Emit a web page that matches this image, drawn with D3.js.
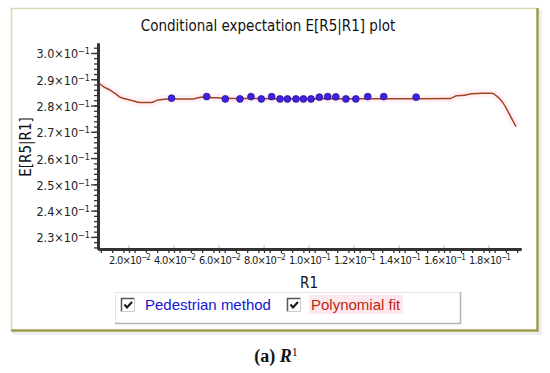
<!DOCTYPE html>
<html>
<head>
<meta charset="utf-8">
<script src="https://cdn.jsdelivr.net/npm/d3@7"></script>
<style>
  body { margin: 0; background: #fff; }
  svg { display: block; }
  .tick text { fill: #222; }
</style>
</head>
<body>
<div id="chart"></div>
<script>
// data
var pedX = [0.0389, 0.0545, 0.0628, 0.0693, 0.0742, 0.0788, 0.0834, 0.0871, 0.0904, 0.0942,
            0.0975, 0.1009, 0.1046, 0.1083, 0.1119, 0.1164, 0.1208, 0.1261, 0.1332, 0.1476];
var pedY = [0.2828, 0.2834, 0.2825, 0.2825, 0.2834, 0.2825, 0.2834, 0.2825, 0.2825, 0.2825,
            0.2825, 0.2825, 0.2832, 0.2834, 0.2833, 0.2825, 0.2825, 0.2834, 0.2834, 0.2832];

var fitX = [0.0070, 0.0090, 0.0116, 0.0140, 0.0160, 0.0190, 0.0218, 0.0249, 0.0301, 0.0329,
            0.0382, 0.0484, 0.0520, 0.0560, 0.0620, 0.0700, 0.0900, 0.1100, 0.1300, 0.1500,
            0.1627, 0.1656, 0.1690, 0.1723, 0.1770, 0.1812, 0.1834, 0.1849, 0.1862, 0.1884,
            0.1904, 0.1920];
var fitY = [0.2883, 0.2870, 0.2859, 0.2845, 0.2832, 0.2824, 0.2818, 0.2812, 0.2812, 0.2821,
            0.2825, 0.2825, 0.2832, 0.2831, 0.2828, 0.2827, 0.2826, 0.2826, 0.2826, 0.2826,
            0.2827, 0.2837, 0.2839, 0.2845, 0.2847, 0.2847, 0.2836, 0.2824, 0.2810, 0.2778,
            0.2745, 0.2720];

var yTicks = [0.23, 0.24, 0.25, 0.26, 0.27, 0.28, 0.29, 0.30];
var yTickLabels = ['2.3×10^−1', '2.4×10^−1', '2.5×10^−1', '2.6×10^−1', '2.7×10^−1', '2.8×10^−1', '2.9×10^−1', '3.0×10^−1'];
var xTicks = [0.02, 0.04, 0.06, 0.08, 0.10, 0.12, 0.14, 0.16, 0.18];
var xTickLabels = ['2.0×10^−2', '4.0×10^−2', '6.0×10^−2', '8.0×10^−2', '1.0×10^−1', '1.2×10^−1', '1.4×10^−1', '1.6×10^−1', '1.8×10^−1'];

var width = 550, height = 373;
var svg = d3.select('#chart')
    .append('svg')
    .attr('width', width)
    .attr('height', height);

// frame with shadow
svg.append('rect').attr('x', 13).attr('y', 10).attr('width', 529).attr('height', 325).attr('fill', '#eeeeee');
svg.append('rect').attr('x', 11).attr('y', 8).attr('width', 527).attr('height', 323).attr('fill', '#fff');
svg.append('path').attr('d', 'M11.5,331V8.5H538').attr('fill', 'none').attr('stroke', '#d9d9b4').attr('stroke-width', 1.5);
svg.append('path').attr('d', 'M11,330.5H537.5V8').attr('fill', 'none').attr('stroke', '#9d9d4c').attr('stroke-width', 2.5);

var x = d3.scaleLinear().domain([0.00622, 0.1942]).range([98, 521]);
var y = d3.scaleLinear().domain([0.3038, 0.2254]).range([43, 249]);

// title
svg.append('text')
    .text('Conditional expectation E[R5|R1] plot')
    .attr('x', 268).attr('y', 31)
    .attr('text-anchor', 'middle')
    .style('font-family', 'DejaVu Sans')
    .style('font-stretch', 'condensed')
    .style('font-size', '15px')
    .attr('fill', '#111');

// fit curve, with the pale pink halo it has in the picture
var line = d3.line().x(function (d, i) { return x(d); }).y(function (d, i) { return y(fitY[i]); }).curve(d3.curveMonotoneX);
svg.append('path').datum(fitX).attr('d', line)
    .attr('fill', 'none').attr('stroke', '#fef1f7').attr('stroke-width', 8);
svg.append('path').datum(fitX).attr('d', line)
    .attr('fill', 'none').attr('stroke', '#a3431c').attr('stroke-width', 1.5);

// pedestrian points
svg.append('g').selectAll('circle')
    .data(pedX)
    .enter().append('circle')
    .attr('cx', function (d) { return x(d); })
    .attr('cy', function (d, i) { return y(pedY[i]); })
    .attr('r', 3.4)
    .attr('fill', '#3f22e6')
    .attr('stroke', '#2a128c')
    .attr('stroke-width', 0.8);

// turns "a^b" tick text into a mantissa plus a superscript
function superscript(sel, supSize) {
    sel.each(function () {
        var t = d3.select(this);
        var parts = t.text().split('^');
        t.text(parts[0]);
        t.append('tspan').text(parts[1]).attr('dy', '-0.45em').style('font-size', supSize);
    });
}

// y axis: minor ticks then labelled ticks
var yAxisG = svg.append('g').attr('transform', 'translate(98,0)');
yAxisG.call(d3.axisLeft(y).tickValues(d3.range(0.226, 0.3039, 0.002)).tickFormat('').tickSize(4).tickSizeOuter(0));
var yMajor = svg.append('g').attr('transform', 'translate(98,0)');
yMajor.call(d3.axisLeft(y).tickValues(yTicks).tickFormat(function (d, i) { return yTickLabels[i]; }).tickSize(7).tickPadding(1).tickSizeOuter(0));
yMajor.selectAll('text').style('font-family', 'DejaVu Sans').style('font-stretch', 'condensed')
    .style('font-size', '12.5px').attr('dy', '0.4em').call(superscript, '9px');

// x axis
var xAxisG = svg.append('g').attr('transform', 'translate(0,249)');
xAxisG.call(d3.axisBottom(x).tickValues(d3.range(0.0075, 0.1942, 0.005)).tickFormat('').tickSize(4).tickSizeOuter(0));
var xMajor = svg.append('g').attr('transform', 'translate(0,249)');
xMajor.call(d3.axisBottom(x).tickValues(xTicks).tickFormat(function (d, i) { return xTickLabels[i]; }).tickSize(4).tickPadding(3).tickSizeOuter(0));
xMajor.selectAll('text').style('font-family', 'DejaVu Sans').style('font-stretch', 'condensed')
    .style('font-size', '11px').style('letter-spacing', '-0.8px').call(superscript, '8px');
// faint grid stubs above the axis at the labelled ticks
svg.append('g').selectAll('line').data(xTicks).enter().append('line')
    .attr('x1', function (d) { return x(d); }).attr('x2', function (d) { return x(d); })
    .attr('y1', 245).attr('y2', 248).attr('stroke', '#bbb');

svg.selectAll('.domain').attr('stroke', '#333').attr('stroke-width', 3);
svg.selectAll('.tick line').attr('stroke', '#333').attr('stroke-width', 1.3);

// axis titles
svg.append('text').text('R1')
    .attr('x', 309).attr('y', 288).attr('text-anchor', 'middle')
    .style('font-family', 'DejaVu Sans').style('font-stretch', 'condensed').style('font-size', '15px').attr('fill', '#111');
svg.append('text').text('E[R5|R1]')
    .attr('transform', 'translate(31,147)rotate(-90)').attr('text-anchor', 'middle')
    .style('font-family', 'DejaVu Sans').style('font-stretch', 'condensed').style('font-size', '15px').attr('fill', '#111');

// legend box
var legend = svg.append('g');
legend.append('rect').attr('x', 115).attr('y', 292).attr('width', 345).attr('height', 31).attr('fill', '#fff');
legend.append('path').attr('d', 'M115.5,323V292.5H460').attr('fill', 'none').attr('stroke', '#e6e6e6');
legend.append('path').attr('d', 'M115,323.5H460.5V292').attr('fill', 'none').attr('stroke', '#b5b5b5').attr('stroke-width', 1.5);

var legendItems = [
    { label: 'Pedestrian method', color: '#1414d4', box: 121, text: 145, bg: null },
    { label: 'Polynomial fit', color: '#c0250c', box: 287, text: 311, bg: '#fde8f0' }
];
legendItems.forEach(function (item) {
    var g = legend.append('g');
    if (item.bg) {
        g.append('rect').attr('x', item.text - 2).attr('y', 295).attr('width', 94).attr('height', 19).attr('fill', item.bg);
    }
    g.append('rect').attr('x', item.box).attr('y', 298).attr('width', 14).attr('height', 14).attr('fill', '#fff');
    g.append('path').attr('d', 'M' + (item.box + 0.5) + ',' + 312 + 'V298.5H' + (item.box + 14))
        .attr('fill', 'none').attr('stroke', '#555').attr('stroke-width', 1.5);
    g.append('path').attr('d', 'M' + item.box + ',311.5H' + (item.box + 13.5) + 'V298')
        .attr('fill', 'none').attr('stroke', '#ccc');
    g.append('path').attr('d', 'M' + (item.box + 3.5) + ',304.5l2.5,3l5,-5.5')
        .attr('fill', 'none').attr('stroke', '#111').attr('stroke-width', 2);
    g.append('text').text(item.label)
        .attr('x', item.text).attr('y', 310)
        .style('font-family', 'Liberation Sans').style('font-size', '15px')
        .attr('fill', item.color);
});

// caption
var cap = svg.append('text').attr('x', 276).attr('y', 362).attr('text-anchor', 'middle')
    .style('font-family', 'Liberation Serif').style('font-size', '18px').attr('fill', '#111');
cap.append('tspan').text('(a) ').style('font-weight', 'bold');
cap.append('tspan').text('R').style('font-weight', 'bold').style('font-style', 'italic');
cap.append('tspan').text('1').attr('dy', '-6').style('font-size', '12px');
</script>
</body>
</html>
